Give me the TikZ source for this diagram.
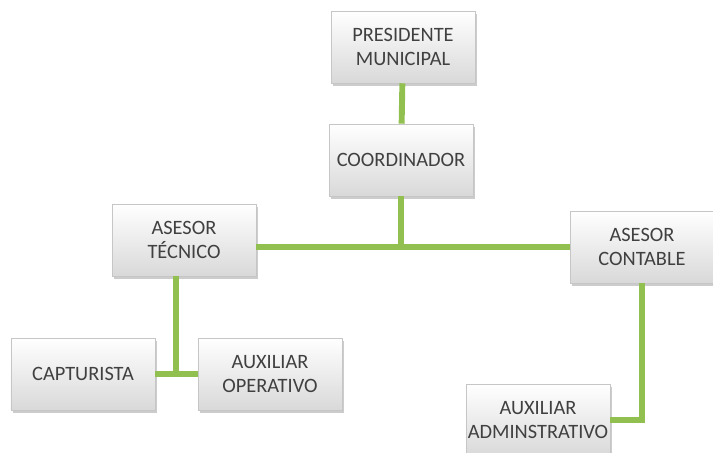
\documentclass[tikz,border=0pt]{standalone}
\usepackage{fontspec}
\setmainfont{Carlito}
\usepackage{tikz}
\usetikzlibrary{shadows}
\definecolor{linkgreen}{RGB}{146,192,80}
\definecolor{boxtext}{RGB}{64,64,64}
\tikzset{unit/.style={draw=gray!45, top color=white, bottom color=gray!30,
  minimum width=3.6cm, minimum height=1.8cm, align=center, text=boxtext, inner xsep=1pt,
  font=\fontsize{14.5}{16.5}\selectfont, drop shadow={opacity=0.4, shadow xshift=0.4mm, shadow yshift=-0.8mm}},
  link/.style={draw=linkgreen, line width=4.2pt}}

\begin{document}
\begin{tikzpicture}
 \useasboundingbox (0, 0) rectangle (17.825, 11.325);
 \node[unit] (pres)  at (10.075, 10.15) {PRESIDENTE\\MUNICIPAL};
 \node[unit] (coord) at (10.025, 7.325) {COORDINADOR};
 \node[unit] (atec)  at (4.6,  5.325)   {ASESOR\\TÉCNICO};
 \node[unit] (acont) at (16.05, 5.15)   {ASESOR\\CONTABLE};
 \node[unit] (capt)  at (2.075, 1.975)  {CAPTURISTA};
 \node[unit] (aop)   at (6.75,  1.975)  {AUXILIAR\\OPERATIVO};
 \node[unit] (aadm)  at (13.45, 0.825)  {AUXILIAR\\ADMINSTRATIVO};

 \coordinate (cj) at (coord.south |- acont.west);
 \coordinate (tj) at ([xshift=-2mm]atec.south |- capt.east);

 \path[link] (pres) edge (coord);
 \path[link] (coord) edge (cj);
 \path[link] (atec.east |- cj) edge (acont.west);
 \path[link] ([xshift=-2mm]atec.south) edge (tj);
 \path[link] (capt.east) edge (aop.west);
 \draw[link] (acont.south) |- (aadm.east);
\end{tikzpicture}
\end{document}
